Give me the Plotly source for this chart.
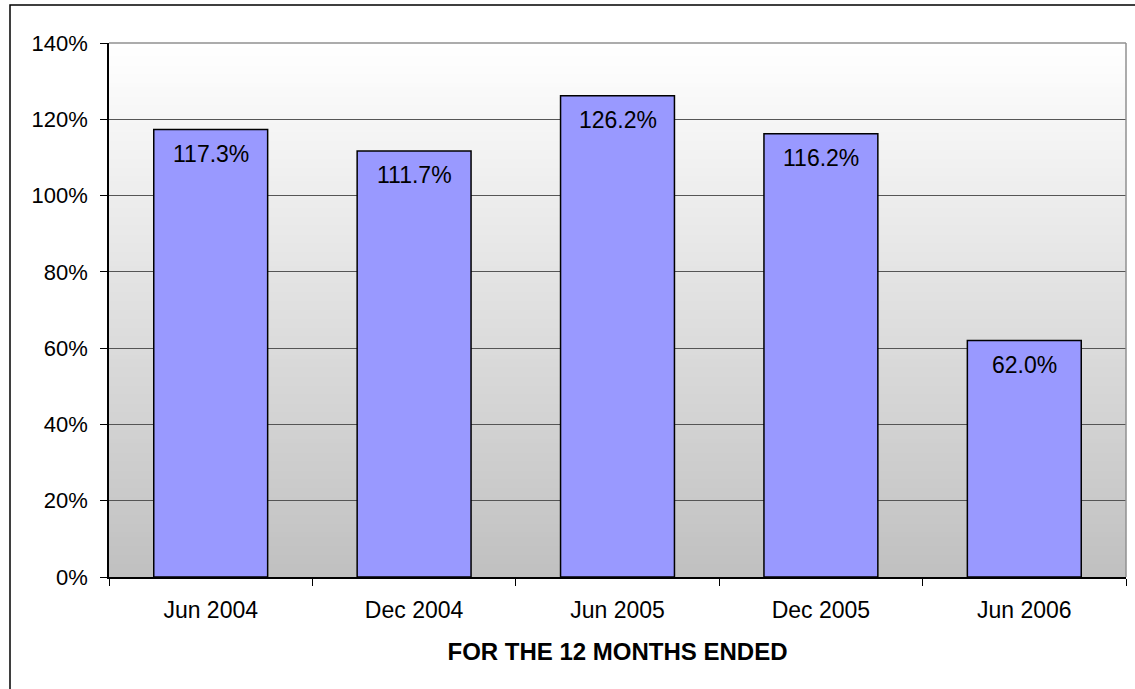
import plotly.graph_objects as go

categories = ["Jun 2004", "Dec 2004", "Jun 2005", "Dec 2005", "Jun 2006"]
values = [117.3, 111.7, 126.2, 116.2, 62.0]
y_ticks = [0, 20, 40, 60, 80, 100, 120, 140]
y_tick_labels = [f"{v}%" for v in y_ticks]
x_title = "FOR THE 12 MONTHS ENDED"

W, H = 1135, 689
L, R, T, B = 109, 9, 43, 112
pw, ph = W - L - R, H - T - B

fig = go.Figure()
fig.add_trace(go.Bar(
    x=categories, y=values,
    marker=dict(color="#9999FF", line=dict(color="black", width=1.5)),
    hoverinfo="x+y",
))

annotations = [
    dict(x=c, y=v, xref="x", yref="y", text=f"{v:.1f}%", showarrow=False,
         yanchor="top", yshift=-9, font=dict(size=23, color="black"))
    for c, v in zip(categories, values)
]

shapes = []
n = 120
for i in range(n):
    f0, f1 = i / n, (i + 1) / n
    fm = (f0 + f1) / 2
    c = int(round(192 + (255 - 192) * fm))
    shapes.append(dict(type="rect", xref="x domain", yref="y domain",
                       x0=0, x1=1, y0=f0, y1=f1 + 0.002,
                       fillcolor=f"rgb({c},{c},{c})", line=dict(width=0),
                       layer="below"))
# plot-area top and right borders (gray)
shapes.append(dict(type="line", xref="x domain", yref="y domain", x0=0, x1=1, y0=1, y1=1,
                   line=dict(color="#909090", width=1.5), layer="above"))
shapes.append(dict(type="line", xref="x domain", yref="y domain", x0=1, x1=1, y0=0, y1=1,
                   line=dict(color="#909090", width=1.5), layer="above"))
# outer chart border
shapes.append(dict(type="rect", xref="paper", yref="paper",
                   x0=(10 - L) / pw, x1=1.2, y0=-0.4, y1=(H - B - 5) / ph,
                   line=dict(color="black", width=1.5), fillcolor="rgba(0,0,0,0)",
                   layer="above"))

fig.update_layout(
    width=W, height=H,
    margin=dict(l=L, r=R, t=T, b=B, pad=0),
    paper_bgcolor="white", plot_bgcolor="white",
    font=dict(family="Liberation Sans, Arial, sans-serif", size=22, color="black"),
    bargap=0.44,
    showlegend=False,
    shapes=shapes,
    annotations=annotations,
    xaxis=dict(
        showline=True, linecolor="black", linewidth=1.5,
        ticks="outside", tickson="boundaries", ticklen=7, tickcolor="black",
        tickfont=dict(size=23),
        ticklabelstandoff=12,
        showgrid=False,
        title=dict(text=f"<b>{x_title}</b>", font=dict(size=24), standoff=21),
    ),
    yaxis=dict(
        range=[0, 140], tickvals=y_ticks, ticktext=y_tick_labels,
        showline=True, linecolor="black", linewidth=1.5,
        ticks="outside", ticklen=7, tickcolor="black",
        tickfont=dict(size=22),
        showgrid=True, gridcolor="#555555", gridwidth=1,
        zeroline=False,
        ticklabelstandoff=8,
    ),
)

fig.write_html("out.html")
